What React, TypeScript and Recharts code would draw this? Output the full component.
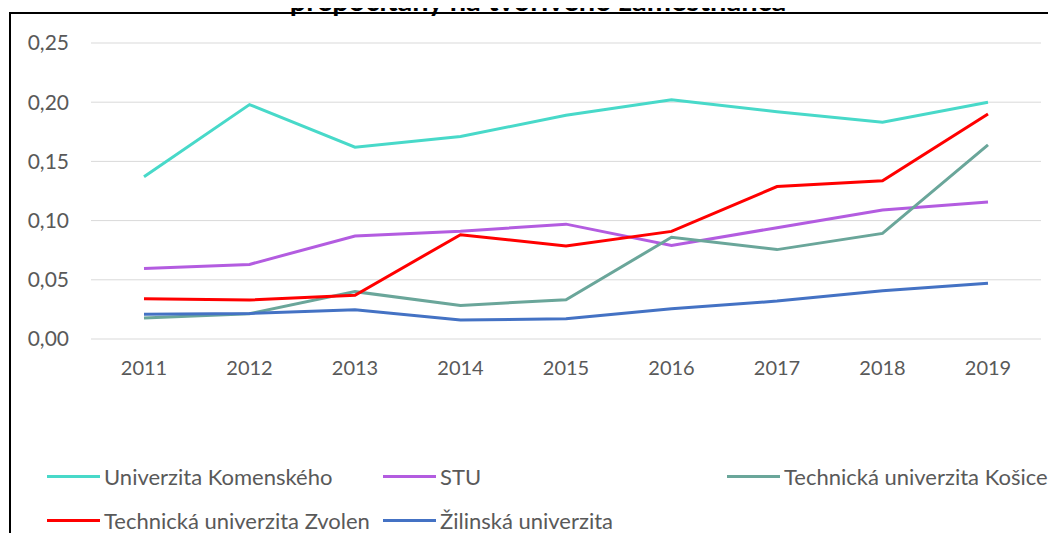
import { CartesianGrid, Line, LineChart, XAxis, YAxis } from 'recharts'

const years = ['2011', '2012', '2013', '2014', '2015', '2016', '2017', '2018', '2019']
const komenskeho = [0.137, 0.198, 0.162, 0.171, 0.189, 0.202, 0.192, 0.183, 0.2]
const stu = [0.0595, 0.063, 0.087, 0.091, 0.097, 0.079, 0.094, 0.109, 0.1157]
const kosice = [0.0177, 0.0214, 0.04, 0.0284, 0.0332, 0.0859, 0.0755, 0.0892, 0.164]
const zvolen = [0.034, 0.0329, 0.037, 0.0881, 0.0786, 0.0909, 0.1288, 0.1336, 0.19]
const zilina = [0.0208, 0.0216, 0.0247, 0.016, 0.0172, 0.0256, 0.032, 0.0407, 0.0471]
const yTicks = [0, 0.05, 0.1, 0.15, 0.2, 0.25]

const series = [
  { key: 'uk', name: 'Univerzita Komenského', color: '#48D9C9', values: komenskeho },
  { key: 'stu', name: 'STU', color: '#B35CE0', values: stu },
  { key: 'tuke', name: 'Technická univerzita Košice', color: '#6AA69A', values: kosice },
  { key: 'tuzvo', name: 'Technická univerzita Zvolen', color: '#FF0000', values: zvolen },
  { key: 'uniza', name: 'Žilinská univerzita', color: '#4472C4', values: zilina },
]

const data = years.map((year, i) => {
  const row: Record<string, string | number> = { year }
  series.forEach((s) => {
    row[s.key] = s.values[i]
  })
  return row
})

const FONT = 'Lato, "Open Sans", sans-serif'
const legendCols = [47, 383, 727]

function ChartLegend() {
  return (
    <div style={{ position: 'absolute', left: 0, top: 463, width: 1056, height: 78 }}>
      {series.map((s, i) => (
        <div
          key={s.key}
          style={{
            position: 'absolute',
            left: legendCols[i % 3],
            top: Math.floor(i / 3) * 44,
            display: 'flex',
            alignItems: 'center',
            height: 26,
            whiteSpace: 'nowrap',
          }}
        >
          <span
            style={{
              display: 'inline-block',
              width: 53,
              height: 3,
              background: s.color,
              marginRight: 4,
            }}
          />
          <span style={{ fontSize: 22, color: '#595959', fontFamily: FONT }}>
            {s.name}
          </span>
        </div>
      ))}
    </div>
  )
}

export default function App() {
  return (
    <div
      style={{
        position: 'relative',
        width: 1056,
        height: 541,
        margin: -8,
        overflow: 'hidden',
        background: '#fff',
        fontFamily: FONT,
      }}
    >
      {/* title is cut off by the top edge in the original */}
      <div
        style={{
          position: 'absolute',
          left: 0,
          width: 1076,
          top: -17,
          lineHeight: 1.2,
          textAlign: 'center',
          fontWeight: 700,
          fontSize: 29,
          color: '#000',
          whiteSpace: 'nowrap',
        }}
      >
        prepočítaný na tvorivého zamestnanca
      </div>
      <div
        style={{
          position: 'absolute',
          left: 9,
          top: 12,
          width: 1060,
          height: 560,
          border: '2px solid #000',
        }}
      />
      <div style={{ position: 'absolute', left: 0, top: 0 }}>
        <LineChart
          width={1056}
          height={541}
          data={data}
          margin={{ top: 43, right: 15, bottom: 162, left: 1 }}
        >
          <CartesianGrid vertical={false} stroke="#D9D9D9" strokeWidth={1} />
          <XAxis
            dataKey="year"
            axisLine={false}
            tickLine={false}
            tickSize={0}
            tickMargin={22}
            height={40}
            padding={{ left: 53, right: 53 }}
            tick={{ fill: '#595959', fontSize: 20, fontFamily: FONT }}
          />
          <YAxis
            width={90}
            domain={[0, 0.25]}
            ticks={yTicks}
            axisLine={false}
            tickLine={false}
            tickSize={0}
            tickMargin={22}
            tickFormatter={(v: number) => v.toFixed(2).replace('.', ',')}
            tick={{ fill: '#595959', fontSize: 21, fontFamily: FONT }}
          />
          {series.map((s) => (
            <Line
              key={s.key}
              type="linear"
              dataKey={s.key}
              name={s.name}
              stroke={s.color}
              strokeWidth={3}
              dot={false}
              activeDot={false}
              isAnimationActive={false}
            />
          ))}
        </LineChart>
      </div>
      <ChartLegend />
    </div>
  )
}
